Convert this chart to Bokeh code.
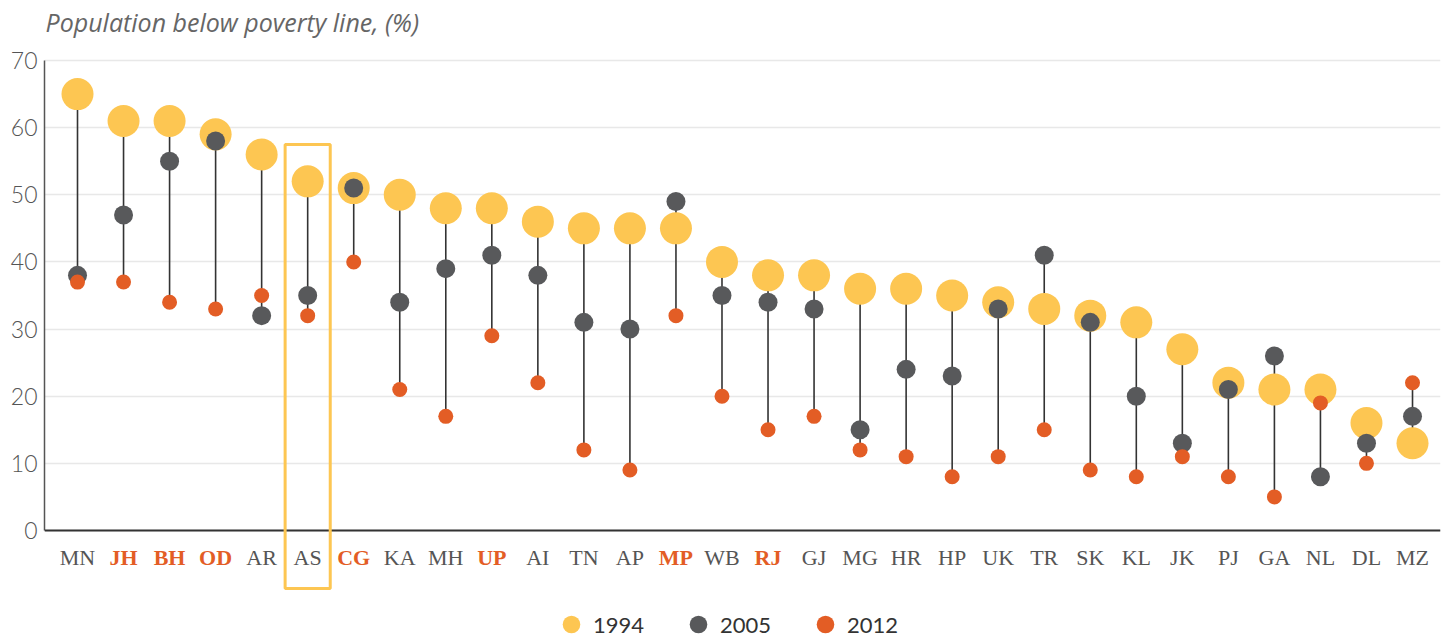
from bokeh.plotting import figure
from bokeh.models import (ColumnDataSource, LabelSet, Label, BoxAnnotation, Legend, LegendItem,
                          FixedTicker, Range1d, Span)
from bokeh.core.properties import value
from bokeh.embed import file_html
from bokeh.resources import INLINE

states = ["MN", "JH", "BH", "OD", "AR", "AS", "CG", "KA", "MH", "UP", "AI", "TN", "AP", "MP", "WB",
          "RJ", "GJ", "MG", "HR", "HP", "UK", "TR", "SK", "KL", "JK", "PJ", "GA", "NL", "DL", "MZ"]
pov_1994 = [65, 61, 61, 59, 56, 52, 51, 50, 48, 48, 46, 45, 45, 45, 40,
            38, 38, 36, 36, 35, 34, 33, 32, 31, 27, 22, 21, 21, 16, 13]
pov_2005 = [38, 47, 55, 58, 32, 35, 51, 34, 39, 41, 38, 31, 30, 49, 35,
            34, 33, 15, 24, 23, 33, 41, 31, 20, 13, 21, 26, 8, 13, 17]
pov_2012 = [37, 37, 34, 33, 35, 32, 40, 21, 17, 29, 22, 12, 9, 32, 20,
            15, 17, 12, 11, 8, 11, 15, 9, 8, 11, 8, 5, 19, 10, 22]
highlighted = ["JH", "BH", "OD", "CG", "UP", "MP", "RJ"]
boxed = "AS"
y_ticks = [0, 10, 20, 30, 40, 50, 60, 70]
title_text = "Population below poverty line, (%)"

YELLOW = "#FDC652"
GRAY = "#58595B"
ORANGE = "#E35D25"

idx = list(range(len(states)))
src = ColumnDataSource(dict(
    x=idx, s=states, y94=pov_1994, y05=pov_2005, y12=pov_2012,
    top=[max(a, b, c) for a, b, c in zip(pov_1994, pov_2005, pov_2012)],
    bot=[min(a, b, c) for a, b, c in zip(pov_1994, pov_2005, pov_2012)],
))
norm_src = ColumnDataSource(dict(
    x=[i for i, s in zip(idx, states) if s not in highlighted],
    s=[s for s in states if s not in highlighted]))
hi_src = ColumnDataSource(dict(
    x=[i for i, s in zip(idx, states) if s in highlighted],
    s=[s for s in states if s in highlighted]))

x_range = Range1d(-0.717, len(states) - 1 + 0.608)
y_range = Range1d(-15.94, 78.94)
p = figure(width=1450, height=637, output_backend="svg", toolbar_location=None, title=None,
           x_range=x_range, y_range=y_range,
           min_border_left=44, min_border_right=10, min_border_top=0, min_border_bottom=0)
p.outline_line_color = None
p.background_fill_color = "white"
p.xaxis.visible = False

p.xgrid.grid_line_color = None
p.ygrid.ticker = FixedTicker(ticks=y_ticks)
p.ygrid.grid_line_color = "#e8e8e8"
p.ygrid.grid_line_width = 1.5

p.yaxis.ticker = FixedTicker(ticks=y_ticks)
p.yaxis.bounds = (min(y_ticks), max(y_ticks))
p.yaxis.major_tick_line_color = None
p.yaxis.minor_tick_line_color = None
p.yaxis.axis_line_color = "#555555"
p.yaxis.axis_line_width = 1.5
p.yaxis.major_label_text_font = "Lato Light"
p.yaxis.major_label_text_font_size = "23px"
p.yaxis.major_label_text_color = "#555555"
p.yaxis.major_label_standoff = 1

p.add_layout(Span(location=0, dimension="width", line_color="#333333", line_width=2))

p.segment(x0="x", y0="top", x1="x", y1="bot", source=src, line_color="#333333", line_width=1.6)
r94 = p.scatter(x="x", y="y94", source=src, size=32, fill_color=YELLOW, line_color=None)
r05 = p.scatter(x="x", y="y05", source=src, size=19, fill_color=GRAY, line_color=None)
r12 = p.scatter(x="x", y="y12", source=src, size=15, fill_color=ORANGE, line_color=None)

p.add_layout(LabelSet(x="x", y=0, source=norm_src, text="s", y_offset=-27,
                      text_align="center", text_baseline="middle",
                      text_font=value("Liberation Serif"), text_font_size=value("22px"),
                      text_color="#555555"))
p.add_layout(LabelSet(x="x", y=0, source=hi_src, text="s", y_offset=-27,
                      text_align="center", text_baseline="middle", text_font_style="bold",
                      text_font=value("Liberation Serif"), text_font_size=value("22px"),
                      text_color=ORANGE))

p.add_layout(Label(x=x_range.start, y=y_range.end, x_offset=1, y_offset=-21,
                   text=title_text, text_baseline="middle", text_align="left",
                   text_font="Open Sans", text_font_style="italic", text_font_size="25px",
                   text_color="#666666"))

bi = states.index(boxed)
p.add_layout(BoxAnnotation(left=bi - 0.49, right=bi + 0.49, top=57.5, bottom=-8.64,
                           fill_alpha=0, line_color=YELLOW, line_alpha=1, line_width=3))

legend = Legend(items=[LegendItem(label="1994", renderers=[r94]),
                       LegendItem(label="2005", renderers=[r05]),
                       LegendItem(label="2012", renderers=[r12])],
                orientation="horizontal", location=(505, -9),
                glyph_width=44, glyph_height=44, label_standoff=0, spacing=32,
                padding=0, margin=0, border_line_color=None, background_fill_alpha=0,
                label_text_font="Lato", label_text_font_size="22px", label_text_color="#333333")
p.add_layout(legend, "center")

open("out.html", "w").write(file_html(p, INLINE))
